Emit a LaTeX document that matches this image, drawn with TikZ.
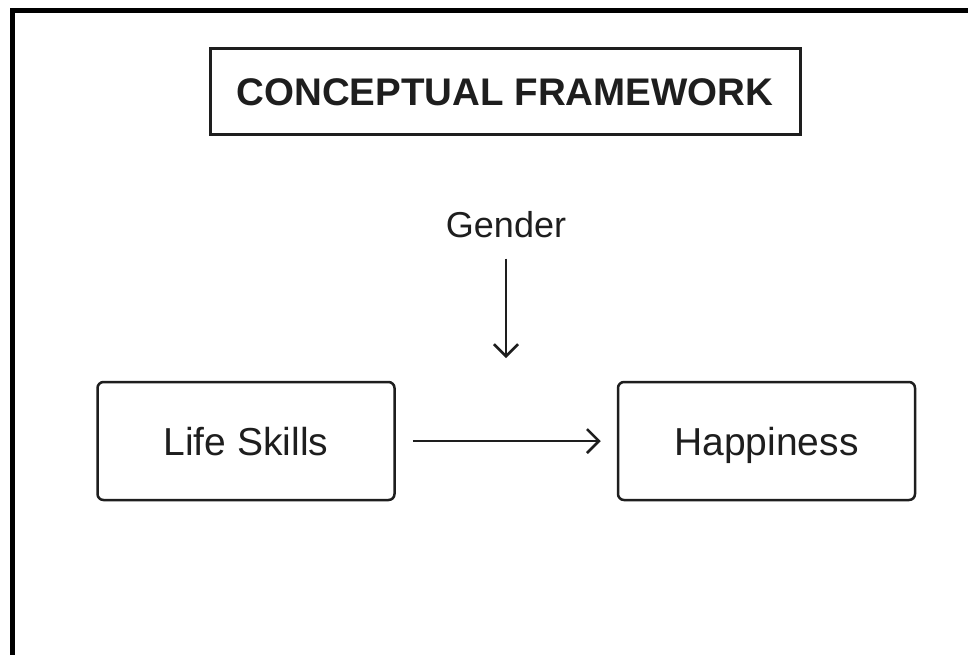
\documentclass[tikz,border=0pt]{standalone}
\usepackage{fontspec}
\setmainfont{Liberation Sans}
\usetikzlibrary{arrows.meta}
\definecolor{ink}{HTML}{1E1E1E}
\begin{document}
\begin{tikzpicture}[x=1pt,y=-1pt,
  box/.style={draw=ink,line width=2.5pt,rounded corners=6pt,minimum width=297pt,minimum height=118pt,inner sep=0pt,text height=28pt,text depth=0pt,text=ink,font=\fontsize{39}{44}\selectfont},
  arr/.style={draw=ink,line width=2.5pt,-{Straight Barb[length=12pt,width=24pt,line width=2.5pt]}}]
\useasboundingbox (0,0) rectangle (968,654);
\clip (0,0) rectangle (968,654);
\fill[white] (0,0) rectangle (968,654);
\draw[line width=5pt,black] (12,10) rectangle (990,700);
\node[draw=ink,line width=3pt,minimum width=590pt,minimum height=86pt,inner sep=0pt,text height=28pt,text depth=0pt,text=ink,font=\bfseries\fontsize{38.5}{44}\selectfont] (title) at (505,91) {CONCEPTUAL FRAMEWORK};
\node[anchor=base,inner sep=0pt,text=ink,font=\fontsize{36}{42}\selectfont] (gender) at (506,237) {Gender};
\coordinate (gtip) at (506,358);
\node[box] (life) at (246,441) {Life Skills};
\node[box] (happy) at (766.5,441) {Happiness};
\draw[arr,shorten <=21pt] (gender.south) -- (gtip);
\draw[arr,shorten <=17pt,shorten >=16pt] (life.east) -- (happy.west);
\end{tikzpicture}
\end{document}
